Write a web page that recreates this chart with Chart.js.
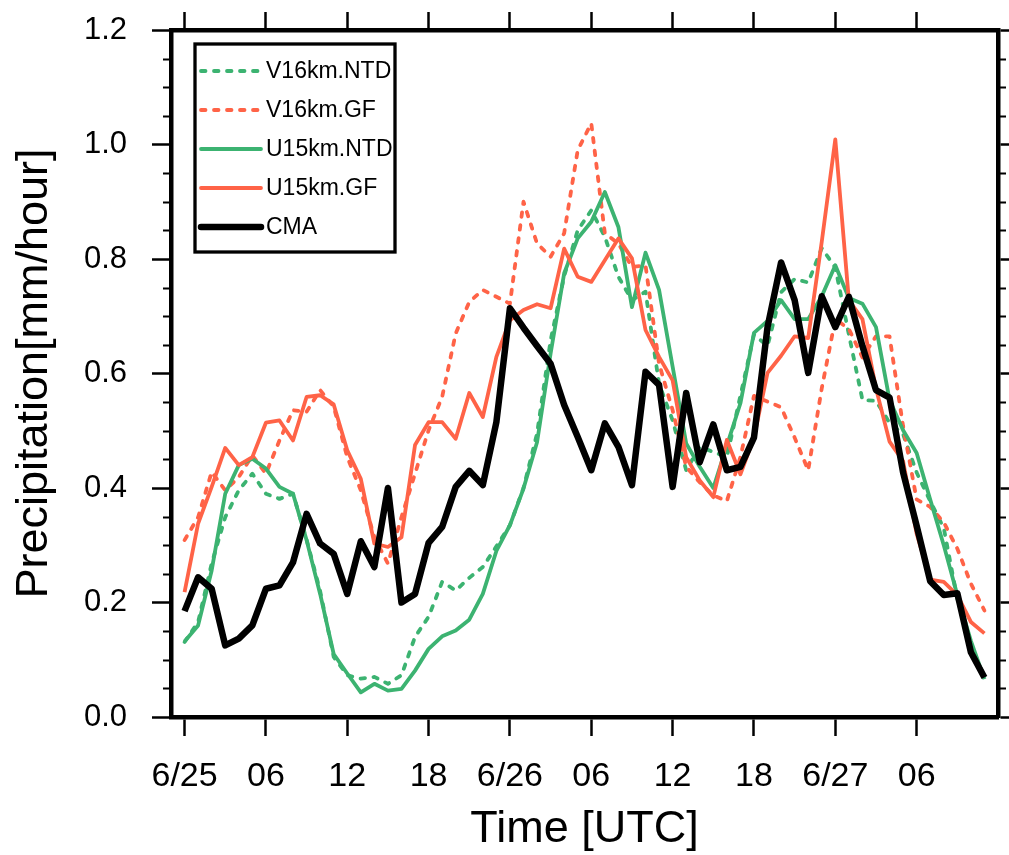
<!DOCTYPE html>
<html>
<head>
<meta charset="utf-8">
<script src="https://cdn.jsdelivr.net/npm/chart.js@4.4.1/dist/chart.umd.min.js"></script>
<style>
  html, body { margin: 0; padding: 0; background: #fff; }
  #wrap { width: 1009px; height: 855px; }
</style>
</head>
<body>
<div id="wrap"><canvas id="precipChart" width="1009" height="855"></canvas></div>
<script>
// hourly time axis, 6/25 00 UTC .. 6/27 11 UTC
const HOURS = [0, 1, 2, 3, 4, 5, 6, 7, 8, 9, 10, 11, 12, 13, 14, 15, 16, 17, 18, 19,
  20, 21, 22, 23, 24, 25, 26, 27, 28, 29, 30, 31, 32, 33, 34, 35, 36, 37, 38, 39,
  40, 41, 42, 43, 44, 45, 46, 47, 48, 49, 50, 51, 52, 53, 54, 55, 56, 57, 58, 59];

const X_TICKS = [0, 6, 12, 18, 24, 30, 36, 42, 48, 54];
const X_TICK_LABELS = ['6/25', '06', '12', '18', '6/26', '06', '12', '18', '6/27', '06'];

const V16_NTD = [0.131, 0.166, 0.268, 0.349, 0.396, 0.425, 0.39, 0.381, 0.39, 0.31,
  0.22, 0.105, 0.073, 0.067, 0.07, 0.058, 0.073, 0.14, 0.175, 0.236,
  0.221, 0.243, 0.262, 0.298, 0.335, 0.40, 0.495, 0.658, 0.77, 0.85,
  0.885, 0.839, 0.769, 0.728, 0.743, 0.582, 0.518, 0.431, 0.472, 0.463,
  0.454, 0.561, 0.668, 0.648, 0.742, 0.765, 0.759, 0.819, 0.785, 0.668,
  0.554, 0.552, 0.514, 0.494, 0.427, 0.377, 0.33, 0.206, 0.126, 0.069];

const V16_GF = [0.309, 0.349, 0.428, 0.396, 0.419, 0.457, 0.425, 0.483, 0.536, 0.533,
  0.571, 0.542, 0.454, 0.396, 0.314, 0.268, 0.349, 0.425, 0.501, 0.559,
  0.67, 0.725, 0.746, 0.734, 0.722, 0.90, 0.827, 0.804, 0.845, 0.99,
  1.037, 0.845, 0.827, 0.786, 0.789, 0.617, 0.536, 0.437, 0.41, 0.387,
  0.377, 0.454, 0.561, 0.551, 0.541, 0.488, 0.431, 0.574, 0.695, 0.678,
  0.628, 0.665, 0.665, 0.508, 0.38, 0.367, 0.34, 0.294, 0.233, 0.186];

const U15_NTD = [0.132, 0.16, 0.256, 0.39, 0.44, 0.451, 0.434, 0.402, 0.39, 0.309,
  0.215, 0.11, 0.076, 0.043, 0.058, 0.046, 0.049, 0.081, 0.119, 0.141,
  0.151, 0.17, 0.215, 0.29, 0.335, 0.399, 0.48, 0.635, 0.775, 0.836,
  0.865, 0.917, 0.856, 0.716, 0.811, 0.746, 0.612, 0.478, 0.437, 0.40,
  0.474, 0.548, 0.671, 0.692, 0.728, 0.695, 0.695, 0.735, 0.789, 0.732,
  0.722, 0.681, 0.554, 0.501, 0.461, 0.38, 0.30, 0.213, 0.133, 0.066];

const U15_GF = [0.218, 0.338, 0.402, 0.47, 0.44, 0.454, 0.514, 0.518, 0.483, 0.559,
  0.562, 0.546, 0.466, 0.416, 0.303, 0.297, 0.314, 0.475, 0.515, 0.515,
  0.486, 0.566, 0.524, 0.629, 0.693, 0.711, 0.721, 0.714, 0.818, 0.769,
  0.76, 0.798, 0.836, 0.801, 0.676, 0.629, 0.588, 0.454, 0.413, 0.384,
  0.484, 0.424, 0.488, 0.601, 0.631, 0.665, 0.662, 0.83, 1.009, 0.728,
  0.695, 0.574, 0.481, 0.447, 0.32, 0.24, 0.236, 0.213, 0.166, 0.146];

const CMA = [0.185, 0.244, 0.224, 0.125, 0.137, 0.16, 0.224, 0.23, 0.27, 0.355,
  0.303, 0.285, 0.215, 0.307, 0.262, 0.40, 0.20, 0.215, 0.304, 0.332,
  0.402, 0.43, 0.405, 0.515, 0.714, 0.68, 0.648, 0.617, 0.545, 0.489,
  0.431, 0.513, 0.472, 0.405, 0.603, 0.58, 0.402, 0.566, 0.445, 0.511,
  0.431, 0.437, 0.488, 0.681, 0.794, 0.728, 0.601, 0.735, 0.681, 0.734,
  0.648, 0.571, 0.558, 0.427, 0.334, 0.237, 0.213, 0.216, 0.113, 0.069];

const GREEN = '#3cb371';
const TOMATO = '#ff6347';
const FONT = "'Liberation Sans', Arial, Helvetica, sans-serif";

function series(label, data, color, width, dashed, order) {
  return {
    label, data, order,
    borderColor: color,
    backgroundColor: color,
    borderWidth: width,
    borderDash: dashed ? [4.5, 8.5] : [],
    borderCapStyle: dashed ? 'round' : 'butt',
    borderJoinStyle: 'round',
    pointRadius: 0,
    tension: 0,
    fill: false
  };
}

const setXTicks = scale => { scale.ticks = X_TICKS.map(v => ({ value: v })); };

// minor y ticks + legend box inside the plot
const framePlugin = {
  id: 'frameExtras',
  afterDraw(chart) {
    const { ctx, chartArea: a, scales: { y } } = chart;
    ctx.save();
    ctx.strokeStyle = '#000';
    ctx.lineWidth = 2;
    for (let i = 1; i < 24; i++) {
      if (i % 4 === 0) continue;
      const py = Math.round(y.getPixelForValue(i * 0.05)) + 0.5;
      ctx.beginPath();
      ctx.moveTo(a.left - 8, py); ctx.lineTo(a.left, py);
      ctx.moveTo(a.right, py); ctx.lineTo(a.right + 8, py);
      ctx.stroke();
    }

    // legend
    const bx = a.left + 24, by = a.top + 14, bw = 200, bh = 208;
    ctx.lineWidth = 3.3;
    ctx.strokeRect(bx, by, bw, bh);
    ctx.font = '23px ' + FONT;
    ctx.textBaseline = 'middle';
    ctx.textAlign = 'left';
    chart.data.datasets.forEach((ds, r) => {
      const ry = by + 27 + r * 39;
      ctx.beginPath();
      ctx.strokeStyle = ds.borderColor;
      ctx.lineWidth = ds.borderWidth;
      ctx.setLineDash(ds.borderDash);
      ctx.lineCap = 'round';
      ctx.moveTo(bx + 6, ry); ctx.lineTo(bx + 66, ry);
      ctx.stroke();
      ctx.setLineDash([]);
      ctx.fillStyle = '#000';
      ctx.fillText(ds.label, bx + 71, ry + 1);
    });
    ctx.restore();
  }
};

new Chart(document.getElementById('precipChart'), {
  type: 'line',
  data: {
    labels: HOURS,
    datasets: [
      series('V16km.NTD', V16_NTD, GREEN, 3.8, true, 4),
      series('V16km.GF', V16_GF, TOMATO, 3.8, true, 3),
      series('U15km.NTD', U15_NTD, GREEN, 3.8, false, 2),
      series('U15km.GF', U15_GF, TOMATO, 3.8, false, 1),
      series('CMA', CMA, '#000', 6.5, false, 0)
    ]
  },
  options: {
    responsive: false,
    devicePixelRatio: 1,
    animation: false,
    layout: { padding: 0 },
    plugins: { legend: { display: false }, tooltip: { enabled: false } },
    scales: {
      x: {
        type: 'linear', position: 'bottom', min: -1, max: 60,
        afterBuildTicks: setXTicks,
        afterFit: s => { s.height = 138; },
        ticks: {
          autoSkip: false, maxRotation: 0, padding: 20, color: '#000',
          font: { family: FONT, size: 34 },
          callback: v => X_TICK_LABELS[X_TICKS.indexOf(v)]
        },
        grid: { drawOnChartArea: false, tickLength: 19, tickWidth: 2.5, tickColor: '#000' },
        border: { display: true, width: 4.5, color: '#000' },
        title: { display: true, text: 'Time [UTC]', color: '#000',
          font: { family: FONT, size: 45, lineHeight: 1 }, padding: { top: 0, bottom: 3 } }
      },
      x2: {
        type: 'linear', position: 'top', min: -1, max: 60,
        afterBuildTicks: setXTicks,
        afterFit: s => { s.height = 30; },
        ticks: { display: false },
        grid: { drawOnChartArea: false, tickLength: 18, tickWidth: 2.5, tickColor: '#000' },
        border: { display: true, width: 4.5, color: '#000' }
      },
      y: {
        position: 'left', min: 0, max: 1.2,
        afterFit: s => { s.width = 171; s.paddingTop = 0; s.paddingBottom = 0; },
        ticks: { stepSize: 0.2, padding: 25, color: '#000',
          font: { family: FONT, size: 31 },
          callback: v => v.toFixed(1) },
        grid: { drawOnChartArea: false, tickLength: 19, tickWidth: 2.5, tickColor: '#000' },
        border: { display: true, width: 4.5, color: '#000' },
        title: { display: true, text: 'Precipitation[mm/hour]', color: '#000',
          font: { family: FONT, size: 45, lineHeight: 1 }, padding: { top: 12, bottom: 0 } }
      },
      y2: {
        position: 'right', min: 0, max: 1.2,
        afterFit: s => { s.width = 11; s.paddingTop = 0; s.paddingBottom = 0; },
        ticks: { display: false, stepSize: 0.2 },
        grid: { drawOnChartArea: false, tickLength: 11, tickWidth: 2.5, tickColor: '#000' },
        border: { display: true, width: 4.5, color: '#000' }
      }
    }
  },
  plugins: [framePlugin]
});
</script>
</body>
</html>
